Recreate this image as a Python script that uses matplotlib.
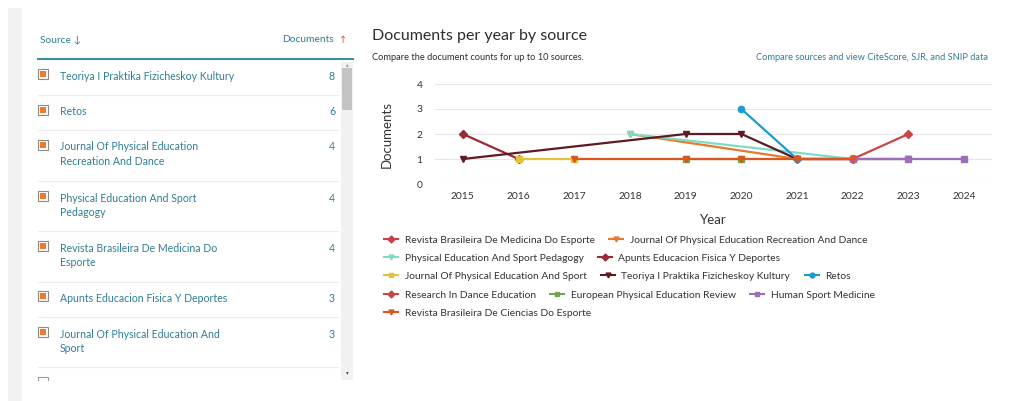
import matplotlib
matplotlib.use("Agg")
import matplotlib.pyplot as plt
from matplotlib.patches import Rectangle
from matplotlib.lines import Line2D

plt.rcParams['font.family'] = ['Lato', 'DejaVu Sans']

W, H = 1009, 401

# ---------------- data ----------------
table_sources = [
    "Teoriya I Praktika Fizicheskoy Kultury",
    "Retos",
    "Journal Of Physical Education\nRecreation And Dance",
    "Physical Education And Sport\nPedagogy",
    "Revista Brasileira De Medicina Do\nEsporte",
    "Apunts Educacion Fisica Y Deportes",
    "Journal Of Physical Education And\nSport",
]
table_counts = [8, 6, 4, 4, 4, 3, 3]

years = [2015, 2016, 2017, 2018, 2019, 2020, 2021, 2022, 2023, 2024]
N = None
series_names = [
    "Revista Brasileira De Medicina Do Esporte",
    "Journal Of Physical Education Recreation And Dance",
    "Physical Education And Sport Pedagogy",
    "Apunts Educacion Fisica Y Deportes",
    "Journal Of Physical Education And Sport",
    "Teoriya I Praktika Fizicheskoy Kultury",
    "Retos",
    "Research In Dance Education",
    "European Physical Education Review",
    "Human Sport Medicine",
    "Revista Brasileira De Ciencias Do Esporte",
]
revista_medicina = [N, N, N, N, N, N, 1, 1, N, N]
jper_dance = [N, N, N, 2, N, N, 1, 1, N, N]
pe_sport_pedagogy = [N, N, N, 2, N, N, N, 1, N, N]
apunts = [2, 1, N, N, N, N, N, N, N, N]
jpes = [N, 1, 1, N, N, N, N, N, N, N]
teoriya = [1, N, N, N, 2, 2, 1, 1, 1, N]
retos = [N, N, N, N, N, 3, 1, N, N, N]
research_dance = [N, N, N, N, N, N, N, 1, 2, N]
european_pe = [N, N, N, N, 1, 1, N, N, N, N]
human_sport = [N, N, N, N, N, N, N, 1, 1, 1]
revista_ciencias = [N, N, 1, N, 1, 1, 1, 1, N, N]
series_values = [revista_medicina, jper_dance, pe_sport_pedagogy, apunts, jpes,
                 teoriya, retos, research_dance, european_pe, human_sport, revista_ciencias]
series_colors = ["#c8404a", "#e8782c", "#7fdcc4", "#9a2a36", "#e0c23c",
                 "#5e1a22", "#1c9ccc", "#c84848", "#6ea84a", "#9a70bc", "#d9561e"]
series_markers = ["D", "v", "v", "D", "s", "v", "o", "D", "s", "s", "v"]
legend_rows = [[0, 1], [2, 3], [4, 5, 6], [7, 8, 9], [10]]

# ---------------- figure ----------------
fig = plt.figure(figsize=(W / 100, H / 100), dpi=100)
fig.patch.set_facecolor("white")

def fx(x):
    return x / W

def fy(y):
    return 1 - y / H

teal = "#2e7e96"
dark = "#2e2e2e"

# left grey strip
fig.add_artist(Rectangle((fx(8), 0), fx(14), fy(8), transform=fig.transFigure,
                         facecolor="#f2f2f2", edgecolor="none"))

# table header
fig.text(fx(40), fy(40), "Source \u2193", color=teal, fontsize=7.4, va="center", ha="left")
fig.text(fx(334), fy(40), "Documents", color=teal, fontsize=7.4, va="center", ha="right")
fig.text(fx(343), fy(40), "\u2191", color="#e8562a", fontsize=7, va="center", ha="center",
         family=['DejaVu Sans'])
fig.add_artist(Line2D([fx(38), fx(353)], [fy(59), fy(59)], transform=fig.transFigure,
                      color="#3d8fa0", lw=1.5))

# scrollbar
fig.add_artist(Rectangle((fx(341), fy(380)), fx(12), fy(62) - fy(380), transform=fig.transFigure,
                         facecolor="#f1f1f1", edgecolor="none"))
fig.add_artist(Rectangle((fx(342), fy(110)), fx(10), fy(68) - fy(110), transform=fig.transFigure,
                         facecolor="#c3c3c3", edgecolor="none"))
fig.text(fx(347), fy(65), "\u25b4", fontsize=4, color="#9a9a9a", ha="center", va="center",
         family=['DejaVu Sans'])
fig.text(fx(347), fy(373), "\u25be", fontsize=4, color="#555555", ha="center", va="center",
         family=['DejaVu Sans'])

row_y = [76, 112, 147, 198, 248, 298, 334]
sep_y = [95, 130, 181, 231, 282, 317, 367]
for name, cnt, y in zip(table_sources, table_counts, row_y):
    for k, part in enumerate(name.split("\n")):
        fig.text(fx(60), fy(y + 15 * k), part, color=teal, fontsize=7.6, va="center", ha="left")
    fig.text(fx(335), fy(y), str(cnt), color=teal, fontsize=7.6, va="center", ha="right")
    fig.add_artist(Rectangle((fx(38), fy(y + 3)), fx(10), fy(y - 7) - fy(y + 3),
                             transform=fig.transFigure, facecolor="white",
                             edgecolor="#8a8a8a", lw=0.8))
    fig.add_artist(Rectangle((fx(40), fy(y + 1)), fx(6), fy(y - 5) - fy(y + 1),
                             transform=fig.transFigure, facecolor="#f07a2a",
                             edgecolor="none"))
for y in sep_y:
    fig.add_artist(Line2D([fx(38), fx(338)], [fy(y), fy(y)], transform=fig.transFigure,
                          color="#ececec", lw=0.8))
# partial last checkbox
fig.add_artist(Rectangle((fx(38), fy(382)), fx(10), fy(377) - fy(382),
                         transform=fig.transFigure, facecolor="white",
                         edgecolor="#9a9a9a", lw=0.8))
fig.add_artist(Rectangle((fx(30), fy(392)), fx(311), fy(381) - fy(392),
                         transform=fig.transFigure, facecolor="white", edgecolor="none"))

# chart title area
fig.text(fx(372), fy(36), "Documents per year by source", fontsize=11.5, color=dark,
         va="center", ha="left")
fig.text(fx(372), fy(57), "Compare the document counts for up to 10 sources.", fontsize=6.7,
         color=dark, va="center", ha="left")
fig.text(fx(988), fy(57), "Compare sources and view CiteScore, SJR, and SNIP data", fontsize=6.7,
         color=teal, va="center", ha="right")

# chart axes
ax = fig.add_axes([fx(435), fy(184), fx(992) - fx(435), fy(84) - fy(184)])
ax.set_xlim(2014.5, 2024.5)
ax.set_ylim(0, 4)
ax.set_xticks(years)
ax.set_yticks([0, 1, 2, 3, 4])
ax.tick_params(length=0, labelsize=7.4, labelcolor="#333333")
ax.tick_params(axis="y", pad=9)
ax.tick_params(axis="x", pad=6)
for s in ax.spines.values():
    s.set_visible(False)
ax.grid(axis="y", color="#e6e6e6", lw=0.8)
ax.set_axisbelow(True)
ax.set_ylabel("Documents", fontsize=9.5, color="#333333")
ax.yaxis.set_label_coords(-0.076, 0.5)
ax.set_xlabel("Year", fontsize=9.5, color="#333333")
ax.xaxis.set_label_coords(0.499, -0.30)

lines = []
for name, vals, col, mk in zip(series_names, series_values, series_colors, series_markers):
    xs = [x for x, v in zip(years, vals) if v is not None]
    ys = [v for v in vals if v is not None]
    ln, = ax.plot(xs, ys, color=col, lw=1.6, marker=mk, markersize=4.5, clip_on=False,
                  label=name)
    lines.append(ln)

legend_y = [240, 258, 276, 295, 313]
for row, y in zip(legend_rows, legend_y):
    handles = [Line2D([], [], color=series_colors[i], lw=1.5, marker=series_markers[i],
                      markersize=3.5) for i in row]
    labels = [series_names[i] for i in row]
    leg = fig.legend(handles, labels, loc="center left", bbox_to_anchor=(fx(384), fy(y)),
                     ncol=len(row), frameon=False, fontsize=7.4, borderpad=0,
                     borderaxespad=0, handlelength=1.4, handletextpad=0.6,
                     columnspacing=1.4)
    for t in leg.get_texts():
        t.set_color("#333333")

fig.savefig("out.png", dpi=100, facecolor="white")
